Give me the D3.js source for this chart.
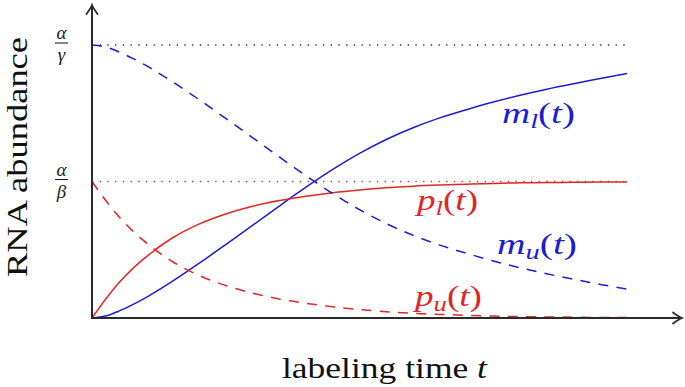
<!DOCTYPE html>
<html><head><meta charset="utf-8">
<script src="https://cdn.jsdelivr.net/npm/d3@7"></script>
<style>html,body{margin:0;padding:0;background:#fff;} svg{display:block;}
text{font-family:"Liberation Serif","Times New Roman",serif;}</style>
</head><body><svg id="chart" width="685" height="387"></svg>
<script>
// ---- data ----
const tValues = [0,0.25,0.5,0.75,1,1.5,2,2.5,3,3.5,4,4.5,5,5.5,6,6.5,7,7.5,8,8.5,9,9.5,10];
const mU = [1.000,0.993,0.975,0.952,0.926,0.866,0.800,0.731,0.661,0.590,0.521,0.456,0.397,0.346,0.303,0.267,0.237,0.209,0.184,0.162,0.142,0.123,0.106];
const mL = [0,0.007,0.025,0.048,0.074,0.134,0.200,0.269,0.339,0.410,0.479,0.544,0.603,0.654,0.697,0.733,0.763,0.791,0.816,0.838,0.858,0.877,0.896];
const pU = [0.5,0.432,0.372,0.321,0.278,0.207,0.156,0.119,0.091,0.070,0.054,0.041,0.031,0.023,0.017,0.013,0.010,0.007,0.005,0.004,0.003,0.002,0.002];
const pL = [0,0.068,0.128,0.179,0.222,0.293,0.344,0.381,0.409,0.430,0.446,0.459,0.469,0.477,0.483,0.487,0.490,0.493,0.495,0.496,0.497,0.498,0.498];
const yTickValues = [1, 0.5];
const yTickNumerators = ["α", "α"];
const yTickDenominators = ["γ", "β"];
const seriesBase = ["m", "p", "m", "p"];
const seriesSub = ["l", "l", "u", "u"];
const xLabelText = "labeling time ";
const xLabelVar = "t";
const yLabelText = "RNA abundance";

// ---- layout ----
const BLUE = "#1c1cd2", RED = "#e02626", AXIS = "#2a2a2a";
const svg = d3.select("#chart");
svg.append("rect").attr("width", 685).attr("height", 387).attr("fill", "#fff");

const x = d3.scaleLinear().domain([0, 10]).range([92, 627]);
const y = d3.scaleLinear().domain([0, 1]).range([318, 45]);
const xAxisEnd = x.invert(682);
const yAxisEnd = y.invert(5);

// guide (dotted) levels
const guideColors = [BLUE, RED];
yTickValues.forEach((v, i) => {
  svg.append("line")
    .attr("x1", x(0)).attr("x2", x(10))
    .attr("y1", y(v)).attr("y2", y(v))
    .attr("stroke", guideColors[i]).attr("stroke-width", 1.3)
    .attr("stroke-dasharray", "1.3,6.4");
});

// curves
const line = d3.line().x((d, i) => x(tValues[i])).y(d => y(d)).curve(d3.curveMonotoneX);
const series = [
  {values: mL, color: BLUE, dash: null},
  {values: pL, color: RED, dash: null},
  {values: mU, color: BLUE, dash: "10,8.3"},
  {values: pU, color: RED, dash: "10,8.3"}
];
series.forEach(s => {
  svg.append("path").attr("d", line(s.values))
    .attr("fill", "none").attr("stroke", s.color).attr("stroke-width", 1.5)
    .attr("stroke-dasharray", s.dash);
});

// axes with arrow heads
svg.append("line").attr("x1", x(0)).attr("x2", x(xAxisEnd) - 1)
  .attr("y1", y(0)).attr("y2", y(0)).attr("stroke", AXIS).attr("stroke-width", 2);
svg.append("line").attr("x1", x(0)).attr("x2", x(0))
  .attr("y1", y(0) + 1).attr("y2", y(yAxisEnd) + 1).attr("stroke", AXIS).attr("stroke-width", 2);
const arrow = "M-9,-5.5 Q-3,-1.2 0,0 Q-3,1.2 -9,5.5";
svg.append("path").attr("d", arrow)
  .attr("transform", `translate(${x(xAxisEnd)},${y(0)})`)
  .attr("fill", "none").attr("stroke", AXIS).attr("stroke-width", 1.8).attr("stroke-linecap", "round");
svg.append("path").attr("d", arrow)
  .attr("transform", `translate(${x(0)},${y(yAxisEnd)}) rotate(-90)`)
  .attr("fill", "none").attr("stroke", AXIS).attr("stroke-width", 1.8).attr("stroke-linecap", "round");

// y tick labels as stacked fractions
yTickValues.forEach((v, i) => {
  const cx = 61.5, bar = y(v) - 2;
  svg.append("line").attr("x1", cx - 6.5).attr("x2", cx + 6.5).attr("y1", bar).attr("y2", bar)
    .attr("stroke", "#222").attr("stroke-width", 1.1);
  svg.append("text").attr("x", cx).attr("y", bar - 4).attr("text-anchor", "middle")
    .attr("font-size", 19).attr("fill", "#222").attr("font-style", "italic")
    .text(yTickNumerators[i]);
  svg.append("text").attr("x", cx).attr("y", bar + 18).attr("text-anchor", "middle")
    .attr("font-size", 19).attr("fill", "#222").attr("font-style", "italic")
    .text(yTickDenominators[i]);
});

// curve labels
const labelPos = [
  {x: 502, y: 123, w: 73, color: BLUE},
  {x: 417, y: 210, w: 61, color: RED},
  {x: 497, y: 254, w: 80, color: BLUE},
  {x: 415, y: 306, w: 67, color: RED}
];
labelPos.forEach((p, i) => {
  const t = svg.append("text").attr("x", p.x).attr("y", p.y)
    .attr("font-size", 29).attr("fill", p.color)
    .attr("textLength", p.w).attr("lengthAdjust", "spacingAndGlyphs");
  t.append("tspan").attr("font-style", "italic").text(seriesBase[i]);
  t.append("tspan").attr("font-style", "italic").attr("font-size", 21).attr("dy", 5).text(seriesSub[i]);
  t.append("tspan").attr("dy", -5).text("(");
  t.append("tspan").attr("font-style", "italic").text("t");
  t.append("tspan").text(")");
});

// axis titles
const xl = svg.append("text").attr("x", 282).attr("y", 378)
  .attr("font-size", 30).attr("fill", "#111")
  .attr("textLength", 205).attr("lengthAdjust", "spacingAndGlyphs");
xl.append("tspan").text(xLabelText);
xl.append("tspan").attr("font-style", "italic").text(xLabelVar);

svg.append("text").attr("transform", "translate(27,157) rotate(-90)")
  .attr("text-anchor", "middle")
  .attr("font-size", 29).attr("fill", "#111")
  .attr("textLength", 240).attr("lengthAdjust", "spacingAndGlyphs")
  .text(yLabelText);
</script></body></html>
